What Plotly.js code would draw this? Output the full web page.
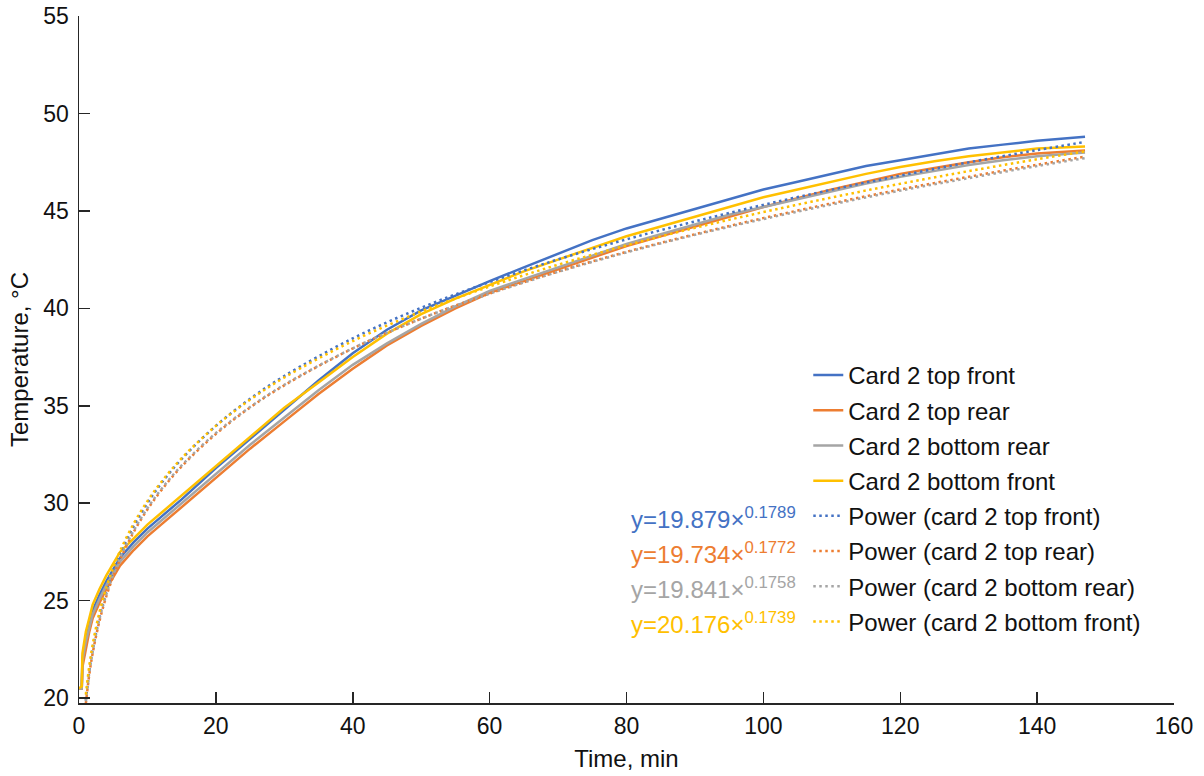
<!DOCTYPE html>
<html>
<head>
<meta charset="utf-8">
<script src="https://cdn.plot.ly/plotly-3.0.1.min.js"></script>
<style>
html,body{margin:0;padding:0;background:#fff;}
#chart{width:1204px;height:776px;}
</style>
</head>
<body>
<div id="chart"></div>
<script>
// Measured time axis (min)
const timeMin = [0, 0.4, 0.5, 1, 1.5, 2, 3, 4, 5, 6, 8, 10, 12, 15, 20, 25, 30, 35, 40, 45, 50, 55, 60, 65, 70, 75, 80, 85, 90, 95, 100, 105, 110, 115, 120, 125, 130, 135, 140, 147];

// Measured temperatures (°C)
const topFront = [20.5, 20.5, 22.0, 23.1, 23.8, 24.5, 25.3, 26.0, 26.6, 27.2, 28.0, 28.7, 29.3, 30.2, 31.8, 33.3, 34.8, 36.3, 37.7, 38.9, 39.9, 40.65, 41.4, 42.1, 42.8, 43.5, 44.1, 44.6, 45.1, 45.6, 46.1, 46.5, 46.9, 47.3, 47.6, 47.9, 48.2, 48.4, 48.6, 48.8];
const topRear = [20.5, 20.5, 21.6, 22.6, 23.4, 24.1, 24.9, 25.6, 26.2, 26.8, 27.6, 28.3, 28.9, 29.8, 31.3, 32.8, 34.2, 35.6, 36.9, 38.1, 39.1, 40.0, 40.8, 41.4, 42.0, 42.6, 43.2, 43.7, 44.2, 44.7, 45.2, 45.65, 46.1, 46.5, 46.9, 47.2, 47.5, 47.75, 47.95, 48.1];
const bottomRear = [20.5, 20.5, 21.9, 22.9, 23.6, 24.3, 25.1, 25.8, 26.4, 27.0, 27.8, 28.5, 29.1, 30.0, 31.5, 33.0, 34.4, 35.8, 37.1, 38.2, 39.2, 40.1, 40.9, 41.5, 42.1, 42.7, 43.3, 43.8, 44.3, 44.8, 45.2, 45.6, 46.0, 46.4, 46.75, 47.05, 47.35, 47.6, 47.8, 48.0];
const bottomFront = [20.5, 20.6, 22.3, 23.4, 24.1, 24.8, 25.6, 26.3, 26.9, 27.5, 28.2, 28.9, 29.5, 30.4, 31.9, 33.4, 34.9, 36.2, 37.5, 38.7, 39.7, 40.5, 41.2, 41.9, 42.5, 43.1, 43.7, 44.2, 44.7, 45.2, 45.7, 46.1, 46.5, 46.9, 47.25, 47.55, 47.8, 48.0, 48.2, 48.3];

// Power trendlines, values
const fitTime = [1, 1.5, 2, 3, 4, 5, 6, 8, 10, 12, 15, 20, 25, 30, 40, 50, 60, 70, 80, 90, 100, 110, 120, 130, 140, 147];
const fitTopFront = [19.88, 21.37, 22.50, 24.20, 25.47, 26.51, 27.39, 28.84, 30.01, 31.01, 32.27, 33.97, 35.36, 36.53, 38.46, 40.03, 41.35, 42.51, 43.54, 44.46, 45.31, 46.09, 46.81, 47.49, 48.12, 48.54];
const fitTopRear = [19.73, 21.20, 22.31, 23.97, 25.23, 26.25, 27.11, 28.53, 29.68, 30.65, 31.89, 33.55, 34.91, 36.05, 37.94, 39.47, 40.76, 41.89, 42.90, 43.80, 44.63, 45.39, 46.10, 46.75, 47.37, 47.78];
const fitBottomRear = [19.84, 21.31, 22.41, 24.07, 25.32, 26.33, 27.19, 28.60, 29.74, 30.71, 31.94, 33.60, 34.94, 36.08, 37.95, 39.47, 40.75, 41.87, 42.87, 43.77, 44.58, 45.33, 46.04, 46.68, 47.30, 47.71];
const fitBottomFront = [20.18, 21.65, 22.76, 24.42, 25.68, 26.69, 27.55, 28.96, 30.11, 31.08, 32.31, 33.97, 35.31, 36.45, 38.32, 39.84, 41.12, 42.24, 43.23, 44.13, 44.94, 45.69, 46.39, 47.04, 47.65, 48.05];

const seriesNames = ["Card 2 top front", "Card 2 top rear", "Card 2 bottom rear", "Card 2 bottom front"];
const fitNames = ["Power (card 2 top front)", "Power (card 2 top rear)", "Power (card 2 bottom rear)", "Power (card 2 bottom front)"];
const eqCoef = ["19.879", "19.734", "19.841", "20.176"];
const eqExp = ["0.1789", "0.1772", "0.1758", "0.1739"];
const colors = ["#4472C4", "#ED7D31", "#A5A5A5", "#FFC000"];

const xTickVals = [0, 20, 40, 60, 80, 100, 120, 140, 160];
const yTickVals = [20, 25, 30, 35, 40, 45, 50, 55];

const measured = [topFront, topRear, bottomRear, bottomFront];
const fits = [fitTopFront, fitTopRear, fitBottomRear, fitBottomFront];

const traces = [];
measured.forEach((ys, i) => {
  traces.push({
    type: 'scatter', mode: 'lines', x: timeMin, y: ys, name: seriesNames[i],
    legendgroup: 'g' + i,
    line: {color: colors[i], width: 2.5}
  });
});
fits.forEach((ys, i) => {
  traces.push({
    type: 'scatter', mode: 'lines', x: fitTime, y: ys, name: fitNames[i],
    legendgroup: 'f' + i,
    line: {color: colors[i], width: 2.5, dash: '2.5px,3.5px', shape: 'spline', smoothing: 1}
  });
});

const FONT = 'Liberation Sans, Arial, sans-serif';
const rowY0 = 0.2700, rowStep = 0.0512;
const annotations = eqCoef.map((c, i) => ({
  xref: 'paper', yref: 'paper', x: 0.6566, y: rowY0 - i * rowStep,
  xanchor: 'right', yanchor: 'middle', showarrow: false,
  text: 'y=' + c + '×<sup>' + eqExp[i] + '</sup>',
  font: {family: FONT, size: 24, color: colors[i]}
}));

const tickFont = {family: FONT, size: 23, color: '#111'};
const titleFont = {family: FONT, size: 24, color: '#111'};

const layout = {
  width: 1204, height: 776,
  margin: {l: 79, r: 30, t: 16, b: 73, pad: 0},
  paper_bgcolor: '#fff', plot_bgcolor: '#fff',
  font: tickFont,
  showlegend: true,
  legend: {
    x: 0.666, y: 0.5095, xanchor: 'left', yanchor: 'top',
    bgcolor: 'rgba(0,0,0,0)', borderwidth: 0,
    font: {family: FONT, size: 24, color: '#111'},
    traceorder: 'grouped', tracegroupgap: 1, itemwidth: 30
  },
  xaxis: {
    range: [0, 160], tickvals: xTickVals, ticktext: xTickVals.map(String),
    showgrid: false, zeroline: false,
    showline: true, linecolor: '#262626', linewidth: 1.5,
    ticks: 'inside', ticklen: 11, tickwidth: 1.5, tickcolor: '#262626',
    tickfont: tickFont, ticklabelstandoff: 2,
    title: {text: 'Time, min', font: titleFont, standoff: 12}
  },
  yaxis: {
    range: [19.75, 55], tickvals: yTickVals, ticktext: yTickVals.map(String),
    showgrid: false, zeroline: false,
    showline: true, linecolor: '#262626', linewidth: 1.5,
    ticks: 'inside', ticklen: 11, tickwidth: 1.5, tickcolor: '#262626',
    tickfont: tickFont, ticklabelstandoff: 4,
    title: {text: 'Temperature, °C', font: titleFont, standoff: 8}
  },
  annotations: annotations
};

Plotly.newPlot('chart', traces, layout, {displayModeBar: false, staticPlot: true});
</script>
</body>
</html>
